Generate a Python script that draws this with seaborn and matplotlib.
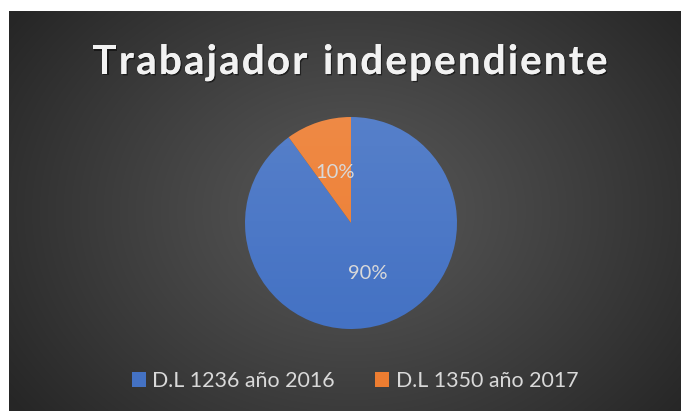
import numpy as np
import matplotlib
matplotlib.use("Agg")
import matplotlib.pyplot as plt
import seaborn as sns
from matplotlib.patches import Patch
import matplotlib.patheffects as pe

categories = ["D.L 1236 año 2016", "D.L 1350 año 2017"]
values = [90, 10]
pct_labels = ["90%", "10%"]
colors = ["#4472C4", "#ED7D31"]
title = "Trabajador independiente"

sns.set_theme(style="dark")
plt.rcParams['font.family'] = ['Lato', 'DejaVu Sans']

W, H = 682, 412
fig = plt.figure(figsize=(W / 100, H / 100), dpi=100)
fig.patch.set_facecolor("white")

# background panel with radial gradient
bg = fig.add_axes([9 / W, 1 / H, 672 / W, 400 / H])
bg.set_axis_off()
yy, xx = np.mgrid[0:400, 0:672]
cx, cy = 342, 200
r = np.sqrt(((xx - cx) / 420.0) ** 2 + ((yy - cy) / 330.0) ** 2)
r = np.clip(r, 0, 1)
val = (0x58 - (0x58 - 0x26) * r ** 1.1) / 255.0
img = np.dstack([val, val, val])
bg.imshow(img, aspect="auto", extent=[0, 1, 0, 1], interpolation="bilinear")
bg.set_xlim(0, 1)
bg.set_ylim(0, 1)

# pie
R = 106
pcx, pcy = 351, 223
ax = fig.add_axes([(pcx - R) / W, (H - pcy - R) / H, 2 * R / W, 2 * R / H])
wedges, texts = ax.pie(values, colors=colors, startangle=90, counterclock=False,
                       wedgeprops=dict(linewidth=0))
ax.set_xlim(-1, 1)
ax.set_ylim(-1, 1)
ax.set_aspect("equal")
ax.set_axis_off()
# subtle vertical shading over the pie (lighter top, darker bottom)
shade = np.linspace(0, 1, 256).reshape(-1, 1)
for w in wedges:
    im = ax.imshow(np.dstack([np.ones_like(shade)] * 3 + [0.10 * (1 - shade)]),
                   extent=[-1, 1, -1, 1], origin="upper", zorder=w.get_zorder() + 0.1,
                   aspect="auto")
    im.set_clip_path(w)
for w, lab in zip(wedges, pct_labels):
    ang = np.deg2rad((w.theta1 + w.theta2) / 2)
    ax.text(0.5 * np.cos(ang), 0.5 * np.sin(ang), lab, ha="center", va="center",
            fontsize=14.5, color="#d9d9d9", zorder=5)

# title with letter spacing
renderer = fig.canvas.get_renderer()
tsize = 29
widths = []
for ch in title:
    if ch == " ":
        t = fig.text(0, 0, "a", fontsize=tsize, fontweight="bold")
        w = t.get_window_extent(renderer).width * 0.55
    else:
        t = fig.text(0, 0, ch, fontsize=tsize, fontweight="bold")
        w = t.get_window_extent(renderer).width
    t.remove()
    widths.append(w)
target = 515
spacing = (target - sum(widths)) / (len(title) - 1)
x = 350 - target / 2
for ch, w in zip(title, widths):
    if ch != " ":
        fig.text(x / W, (H - 74) / H, ch, fontsize=tsize, fontweight="bold",
                 color="#f2f2f2", ha="left", va="baseline",
                 path_effects=[pe.withSimplePatchShadow(offset=(1, -1), shadow_rgbFace="black", alpha=0.5),
                               pe.Normal()])
    x += w + spacing

# legend
handles = [Patch(facecolor=c, edgecolor="none") for c in colors]
leg = fig.legend(handles, categories, loc="center", bbox_to_anchor=(355 / W, (H - 381) / H),
                 ncol=2, frameon=False, fontsize=15.4, labelcolor="#d9d9d9",
                 handlelength=0.65, handleheight=0.65, handletextpad=0.3, columnspacing=1.9)

fig.savefig("out.png", dpi=100, facecolor=fig.get_facecolor())
